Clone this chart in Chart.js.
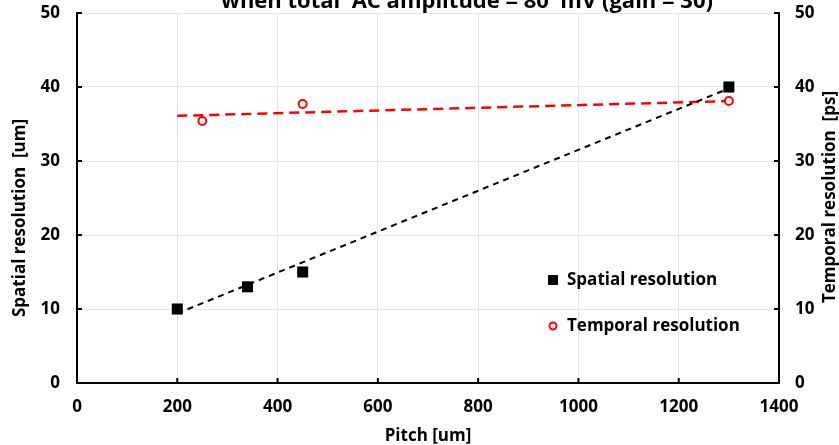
<!DOCTYPE html>
<html>
<head>
<meta charset="utf-8">
<script src="https://cdn.jsdelivr.net/npm/chart.js@4.4.1/dist/chart.umd.min.js"></script>
<style>
  html, body { margin: 0; padding: 0; background: #fff; }
  #wrap { width: 839px; height: 445px; }
</style>
</head>
<body>
<div id="wrap"><canvas id="chart" width="839" height="445"></canvas></div>
<script>
// Measured points
const pitchSpatial = [200, 340, 450, 1300];
const spatialRes = [10, 13, 15, 40];
const pitchTemporal = [250, 450, 1300];
const temporalRes = [35.4, 37.7, 38.1];

// Linear trend lines (end points)
const fitPitch = [200, 1300];
const spatialFit = [9.4, 39.8];
const temporalFit = [36.1, 38.1];

const xTicks = [0, 200, 400, 600, 800, 1000, 1200, 1400];
const yTicks = [0, 10, 20, 30, 40, 50];

const titleText = "when total  AC amplitude = 80  mV (gain = 30)";
const xTitle = "Pitch [um]";
const yTitle = "Spatial resolution  [um]";
const y2Title = "Temporal resolution  [ps]";
const legendLabels = ["Spatial resolution", "Temporal resolution"];

const FONT = "'Open Sans', 'DejaVu Sans', sans-serif";
const toPoints = (xs, ys) => xs.map((x, i) => ({ x: x, y: ys[i] }));

// inward tick marks, titles and legend
const decorations = {
  id: "decorations",
  afterDraw(chart) {
    const ctx = chart.ctx;
    const area = chart.chartArea;
    const sx = chart.scales.x, sy = chart.scales.y, sy2 = chart.scales.y2;
    ctx.save();
    ctx.strokeStyle = "#000";
    ctx.lineWidth = 2;
    ctx.beginPath();
    xTicks.forEach(v => {
      const px = sx.getPixelForValue(v);
      ctx.moveTo(px, area.bottom);
      ctx.lineTo(px, area.bottom - 5);
    });
    yTicks.forEach(v => {
      const py = sy.getPixelForValue(v);
      ctx.moveTo(area.left, py);
      ctx.lineTo(area.left + 5, py);
      const py2 = sy2.getPixelForValue(v);
      ctx.moveTo(area.right, py2);
      ctx.lineTo(area.right - 5, py2);
    });
    ctx.stroke();

    ctx.fillStyle = "#000";
    ctx.textAlign = "center";
    ctx.textBaseline = "alphabetic";
    ctx.font = "bold 22px " + FONT;
    ctx.fillText(titleText, 467, 8);

    ctx.textBaseline = "middle";
    ctx.font = "bold 17px " + FONT;
    ctx.fillText(xTitle, 428, 436);

    ctx.save();
    ctx.translate(20, 218);
    ctx.rotate(-Math.PI / 2);
    ctx.fillText(yTitle, 0, 0);
    ctx.restore();

    ctx.save();
    ctx.translate(830, 197);
    ctx.rotate(-Math.PI / 2);
    ctx.fillText(y2Title, 0, 0);
    ctx.restore();

    // legend
    ctx.textAlign = "left";
    ctx.fillRect(548, 275, 10, 10);
    ctx.fillText(legendLabels[0], 567, 280);
    ctx.beginPath();
    ctx.arc(553, 326, 3.5, 0, Math.PI * 2);
    ctx.fillStyle = "#fff";
    ctx.fill();
    ctx.strokeStyle = "#ff0000";
    ctx.lineWidth = 2;
    ctx.stroke();
    ctx.fillStyle = "#000";
    ctx.fillText(legendLabels[1], 567, 326);
    ctx.restore();
  }
};

const tickFont = { family: FONT, size: 17, weight: "bold" };
const plain = v => String(v);

// fixed axis sizes, no extra room for overhanging labels
const fixSize = (w, h) => s => {
  if (w) s.width = w;
  if (h) s.height = h;
  s.paddingTop = 0;
  s.paddingBottom = 0;
  s.paddingLeft = 0;
  s.paddingRight = 0;
};

new Chart(document.getElementById("chart"), {
  type: "scatter",
  data: {
    datasets: [
      {
        label: legendLabels[0],
        data: toPoints(pitchSpatial, spatialRes),
        yAxisID: "y",
        pointStyle: "rect",
        pointRadius: 7.8,
        pointHoverRadius: 7.8,
        backgroundColor: "#000",
        borderColor: "#000",
        borderWidth: 0,
        order: 0
      },
      {
        label: legendLabels[1],
        data: toPoints(pitchTemporal, temporalRes),
        yAxisID: "y2",
        pointStyle: "circle",
        pointRadius: 4,
        pointHoverRadius: 4,
        backgroundColor: "#fff",
        borderColor: "#ff0000",
        borderWidth: 2,
        order: 0
      },
      {
        label: "spatial fit",
        type: "line",
        data: toPoints(fitPitch, spatialFit),
        yAxisID: "y",
        showLine: true,
        pointRadius: 0,
        borderColor: "#000",
        borderWidth: 2,
        borderDash: [6, 5],
        fill: false,
        order: 1
      },
      {
        label: "temporal fit",
        type: "line",
        data: toPoints(fitPitch, temporalFit),
        yAxisID: "y2",
        showLine: true,
        pointRadius: 0,
        borderColor: "#ff0000",
        borderWidth: 2.5,
        borderDash: [10, 6],
        fill: false,
        order: 1
      }
    ]
  },
  options: {
    responsive: false,
    animation: false,
    layout: { padding: { top: 13, left: 0, right: 0, bottom: 0 } },
    plugins: {
      legend: { display: false },
      tooltip: { enabled: false },
      title: { display: false }
    },
    scales: {
      x: {
        type: "linear",
        min: 0,
        max: 1400,
        afterFit: fixSize(0, 62),
        afterBuildTicks: s => { s.ticks = xTicks.map(v => ({ value: v })); },
        ticks: { font: tickFont, color: "#000", padding: 14, callback: plain },
        grid: { color: "#e6e6e6", lineWidth: 1, drawTicks: false },
        border: { display: true, color: "#000", width: 2 }
      },
      y: {
        position: "left",
        min: 0,
        max: 50,
        afterFit: fixSize(77, 0),
        afterBuildTicks: s => { s.ticks = yTicks.map(v => ({ value: v })); },
        ticks: { font: tickFont, color: "#000", padding: 17, callback: plain },
        grid: { color: "#e6e6e6", lineWidth: 1, drawTicks: false },
        border: { display: true, color: "#000", width: 2 }
      },
      y2: {
        position: "right",
        min: 0,
        max: 50,
        afterFit: fixSize(60, 0),
        afterBuildTicks: s => { s.ticks = yTicks.map(v => ({ value: v })); },
        ticks: { font: tickFont, color: "#000", padding: 16, callback: plain },
        grid: { display: false, drawTicks: false },
        border: { display: true, color: "#000", width: 2 }
      }
    }
  },
  plugins: [decorations]
});
</script>
</body>
</html>
